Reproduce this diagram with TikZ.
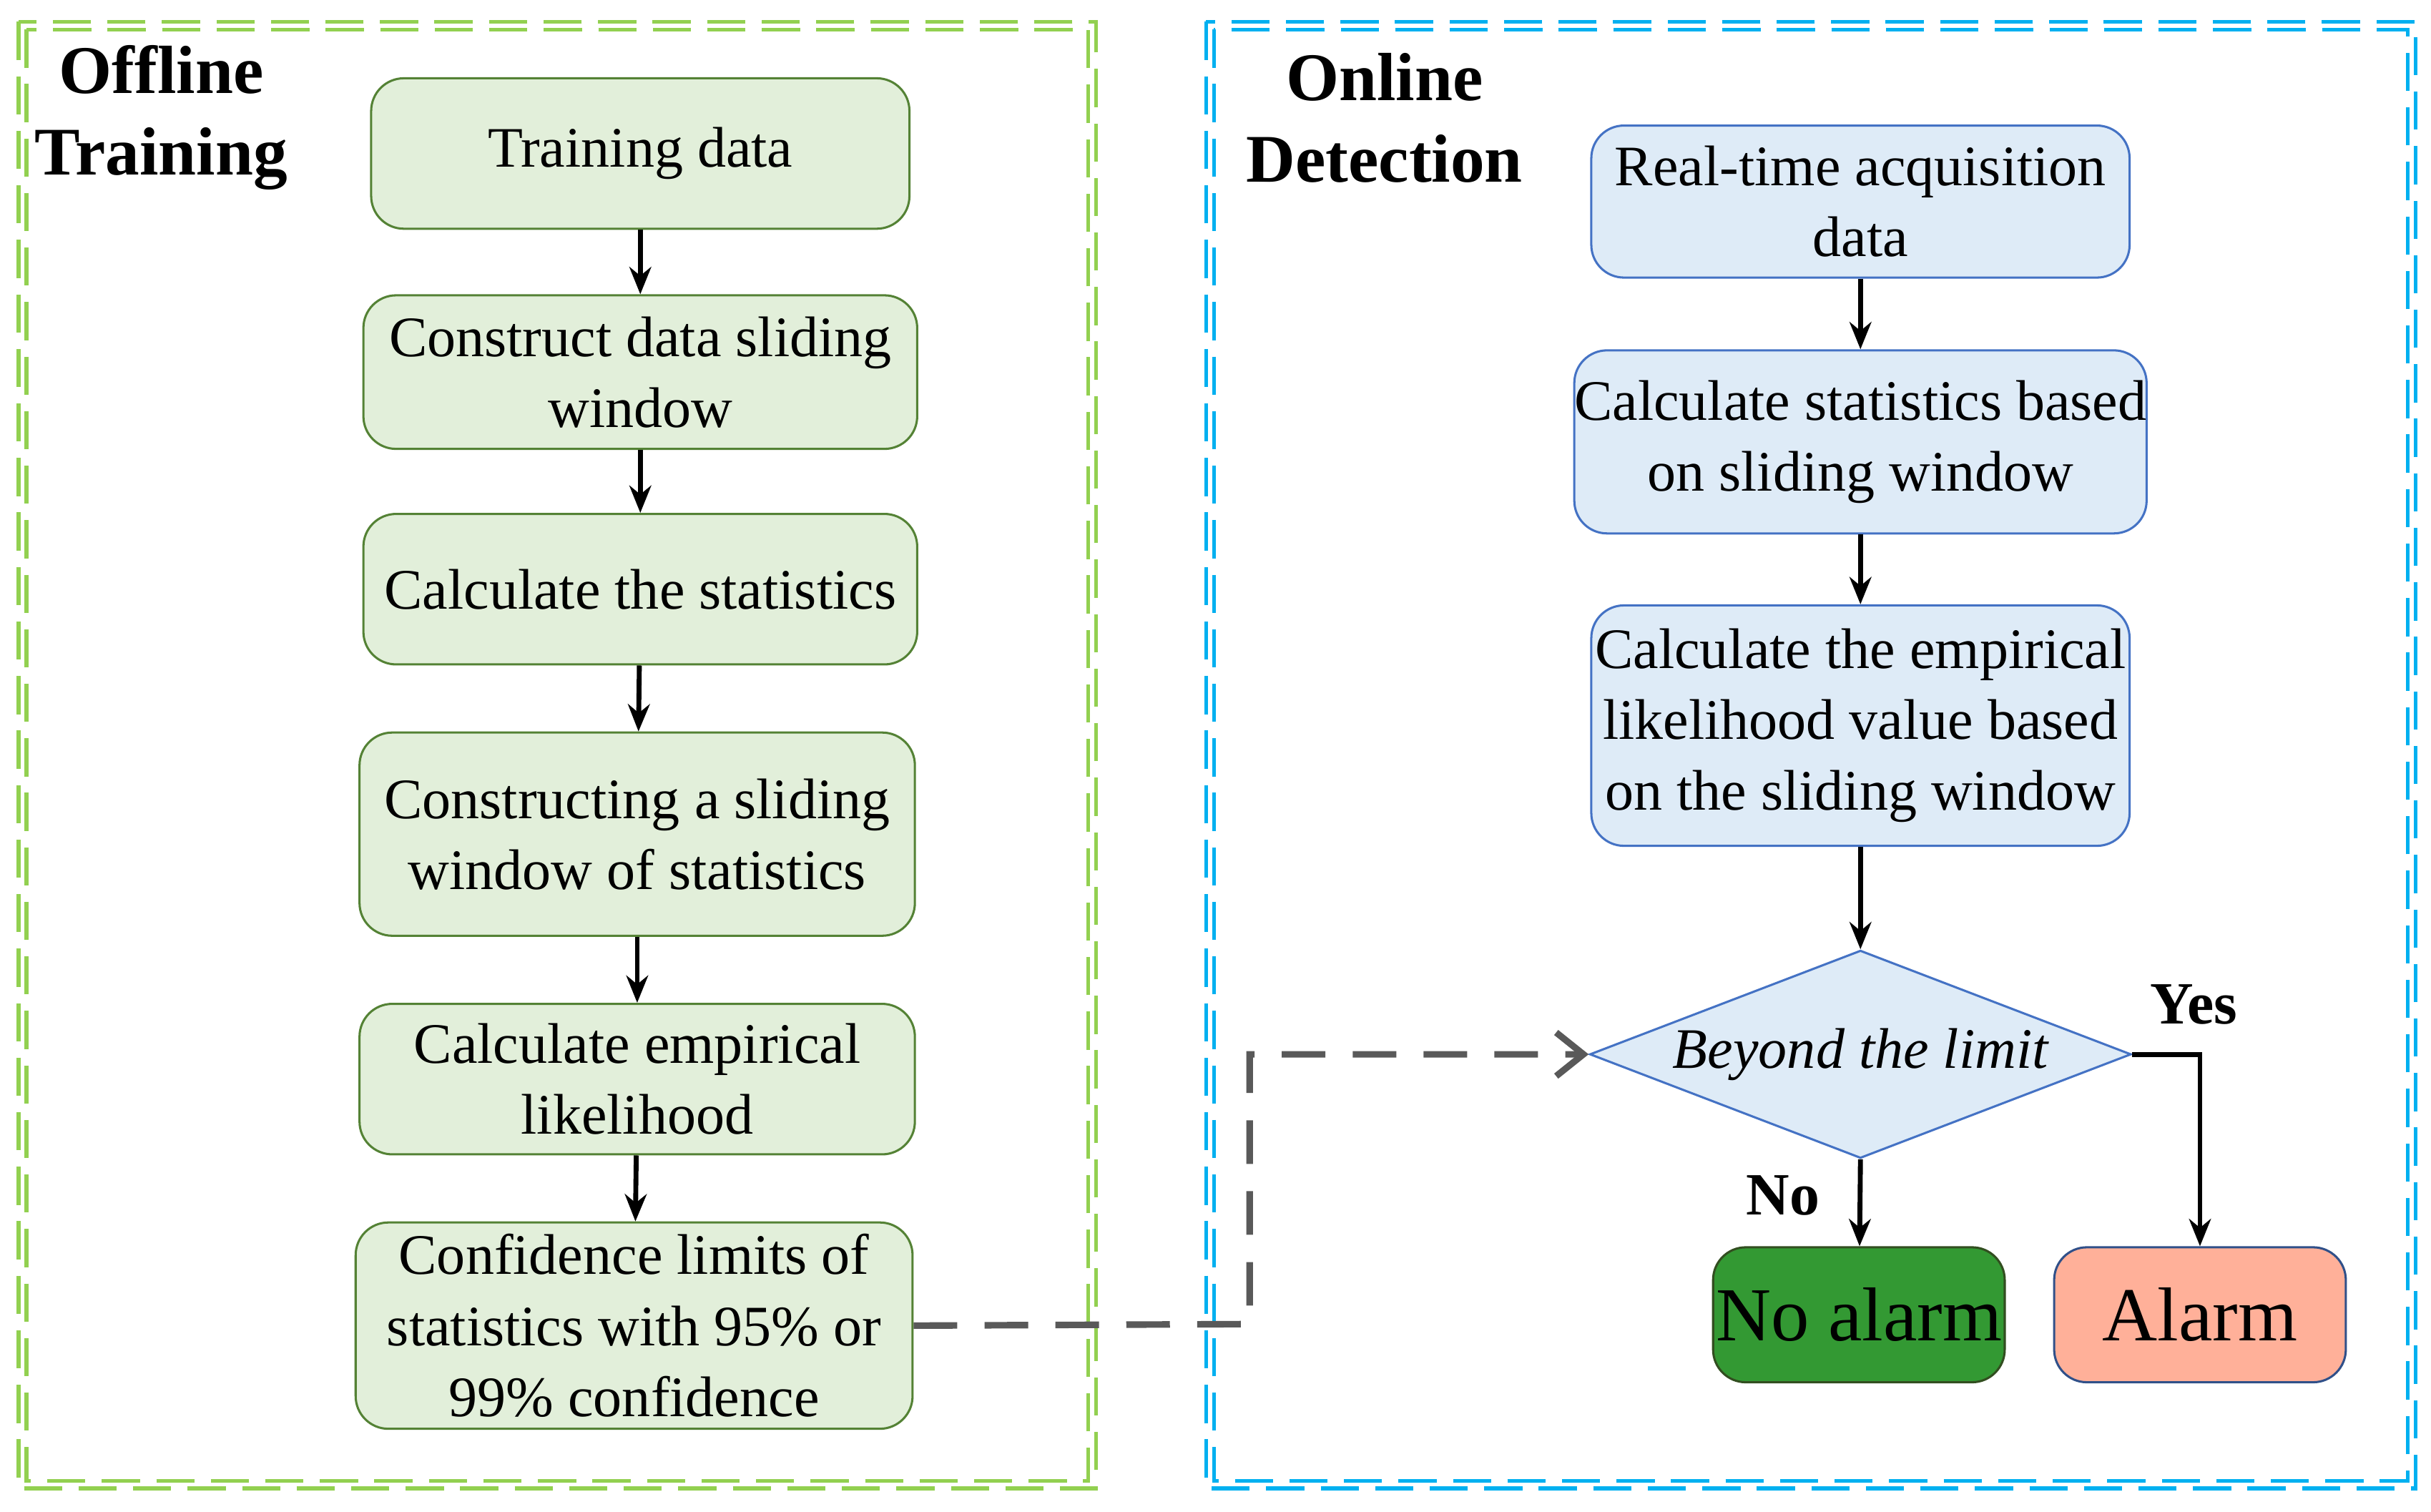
\documentclass[tikz,border=0pt]{standalone}
\usepackage{fontspec}
\setmainfont{Liberation Serif}
\usetikzlibrary{shapes.geometric,arrows.meta}
\definecolor{gfill}{HTML}{E2EFDA}\definecolor{gline}{HTML}{548235}
\definecolor{bfill}{HTML}{DEEBF7}\definecolor{bline}{HTML}{4472C4}
\definecolor{gframe}{HTML}{92D050}\definecolor{bframe}{HTML}{00B0F0}
\begin{document}
\begin{tikzpicture}[x=0.01cm,y=-0.01cm,
 gb/.style={draw=gline,fill=gfill,rounded corners=6pt,align=center,font=\fontsize{10.5}{13}\selectfont,inner sep=0pt},
 bb/.style={draw=bline,fill=bfill,rounded corners=6pt,align=center,font=\fontsize{10.5}{13}\selectfont,inner sep=0pt},
 ar/.style={-{Stealth[length=5pt,width=4pt]},line width=0.9pt},
 ttl/.style={font=\fontsize{12.5}{15}\selectfont\bfseries,align=center}]
\useasboundingbox (0,0) rectangle (1568,975);
% frames
\foreach \d in {0,5}{
 \draw[gframe,dashed,line width=0.7pt,dash pattern=on 7pt off 3pt] (12+\d,14+\d) rectangle (707-\d,960-\d);
 \draw[bframe,dashed,line width=0.7pt,dash pattern=on 7pt off 3pt] (778+\d,14+\d) rectangle (1558-\d,960-\d);}
\node[ttl] (t1) at (104,76) {Offline\\Training};
\node[ttl] (t2) at (893,76) {Online\\Detection};
% left
\node[gb,minimum width=347\pgflinewidth*0+3.47cm,minimum height=0.97cm] (l1) at (413,99) {Training data};
\node[gb,minimum width=3.57cm,minimum height=0.99cm] (l2) at (413,240) {Construct data sliding\\window};
\node[gb,minimum width=3.57cm,minimum height=0.97cm] (l3) at (413,380) {Calculate the statistics};
\node[gb,minimum width=3.58cm,minimum height=1.31cm] (l4) at (411,538) {Constructing a sliding\\window of statistics};
\node[gb,minimum width=3.58cm,minimum height=0.97cm] (l5) at (411,696) {Calculate empirical\\likelihood};
\node[gb,minimum width=3.59cm,minimum height=1.33cm] (l6) at (409,855) {Confidence limits of\\statistics with 95\% or\\99\% confidence};
\draw[ar] (l1) -- (l2); \draw[ar] (l2) -- (l3); \draw[ar] (l3) -- (l4);
\draw[ar] (l4) -- (l5); \draw[ar] (l5) -- (l6);
% right
\node[bb,minimum width=3.47cm,minimum height=0.98cm] (r1) at (1200,130) {Real-time acquisition\\data};
\node[bb,minimum width=3.47cm,minimum height=1.18cm] (r2) at (1200,285) {Calculate statistics based\\on sliding window};
\node[bb,minimum width=3.47cm,minimum height=1.55cm] (r3) at (1200,468) {Calculate the empirical\\likelihood value based\\on the sliding window};
\node[diamond,draw=bline,fill=bfill,minimum width=3.49cm,minimum height=1.34cm,inner sep=0pt,aspect=2.6,font=\fontsize{10.5}{13}\selectfont\itshape] (d) at (1200,680) {Beyond the limit};
\node[draw=gline!60!black,fill=green!45!black!75!white,fill=green!50!black!80,rounded corners=6pt,minimum width=1.88cm,minimum height=0.87cm,font=\fontsize{14}{16}\selectfont,inner sep=0pt] (na) at (1199,848) {No alarm};
\node[draw=bline!70!black,fill=orange!45!red!40!white,rounded corners=6pt,minimum width=1.88cm,minimum height=0.87cm,font=\fontsize{14}{16}\selectfont,inner sep=0pt] (al) at (1419,848) {Alarm};
\draw[ar] (r1) -- (r2); \draw[ar] (r2) -- (r3); \draw[ar] (r3) -- (d.north);
\draw[ar] (d.south) -- (na);
\draw[ar] (d.east) -| (al.north);
\node[font=\fontsize{11}{13}\selectfont\bfseries] (yes) at (1415,648) {Yes};
\node[font=\fontsize{11}{13}\selectfont\bfseries] (no) at (1150,771) {No};
\coordinate (c1) at (806,854); \coordinate (c2) at (806,680);
\draw[gray!70!black,line width=1.2pt,dash pattern=on 8pt off 5pt,-{Straight Barb[length=5pt,width=8pt]}] (l6.east) -- (c1) -- (c2) -- (d.west);
\end{tikzpicture}
\end{document}
